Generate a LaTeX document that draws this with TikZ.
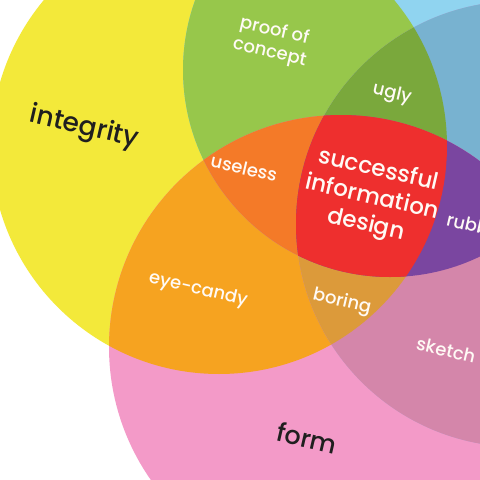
\documentclass[tikz,border=0pt]{standalone}
\usepackage{fontspec}
\setmainfont{Poppins}[UprightFont={* Medium}]
\definecolor{cY}{HTML}{F3E93A}
\definecolor{cP}{HTML}{F39AC8}
\definecolor{cG}{HTML}{90D4F0}
\definecolor{cR}{HTML}{B9A2D8}
\definecolor{cYG}{HTML}{97C74B}
\definecolor{cYP}{HTML}{F6A320}
\definecolor{cYR}{HTML}{E8B040}
\definecolor{cGR}{HTML}{78B2D0}
\definecolor{cGP}{HTML}{B08CC8}
\definecolor{cPR}{HTML}{D486AA}
\definecolor{cYGR}{HTML}{7AA83C}
\definecolor{cYGP}{HTML}{F47A28}
\definecolor{cYPR}{HTML}{DC9A3A}
\definecolor{cGPR}{HTML}{7A46A0}
\definecolor{cAll}{HTML}{EE2F2E}
\begin{document}
\begin{tikzpicture}[x=1pt,y=-1pt,
  lbl/.style={text=white!96!orange, font=\fontsize{18}{22}\selectfont, rotate=-13, align=center, inner sep=0pt},
  bigl/.style={text=black!88, font=\fontsize{26.5}{30}\selectfont, rotate=-13, inner sep=0pt}]
\useasboundingbox (0,0) rectangle (480,480);
\clip (0,0) rectangle (480,480);
\fill[white] (0,0) rectangle (480,480);
\def\cirY{(219,146) circle (228pt)}
\def\cirP{(341,347) circle (232pt)}
\def\cirG{(390,70) circle (207pt)}
\def\cirR{(519,224) circle (223pt)}
% single circles
\fill[cY] \cirY;
\fill[cP] \cirP;
\fill[cG] \cirG;
\fill[cR] \cirR;
% pairs
\begin{scope}\clip \cirY; \fill[cYG] \cirG; \fill[cYP] \cirP; \fill[cYR] \cirR; \end{scope}
\begin{scope}\clip \cirG; \fill[cGR] \cirR; \fill[cGP] \cirP; \end{scope}
\begin{scope}\clip \cirP; \fill[cPR] \cirR; \end{scope}
% triples
\begin{scope}\clip \cirY; \clip \cirG; \fill[cYGR] \cirR; \fill[cYGP] \cirP; \end{scope}
\begin{scope}\clip \cirY; \clip \cirP; \fill[cYPR] \cirR; \end{scope}
\begin{scope}\clip \cirG; \clip \cirP; \fill[cGPR] \cirR; \end{scope}
% all four
\begin{scope}\clip \cirY; \clip \cirG; \clip \cirP; \fill[cAll] \cirR; \end{scope}
% labels
\node[bigl] (integrity) at (84,128) {integrity};
\node[bigl, font=\fontsize{25.5}{30}\selectfont] (form) at (307,438) {form};
\node[lbl] (poc) at (272,42) {proof of\\concept};
\node[lbl] (ugly) at (392,94) {ugly};
\node[lbl] (useless) at (244,168) {useless};
\node[lbl, font=\fontsize{23}{28}\selectfont] (sid) at (372,198) {successful\\information\\design};
\node[lbl, anchor=west] (rubbish) at (447,219) {rubbish};
\node[lbl] (eyecandy) at (198,290) {eye-candy};
\node[lbl] (boring) at (342,302) {boring};
\node[lbl] (sketch) at (446,350) {sketch};
\end{tikzpicture}
\end{document}
